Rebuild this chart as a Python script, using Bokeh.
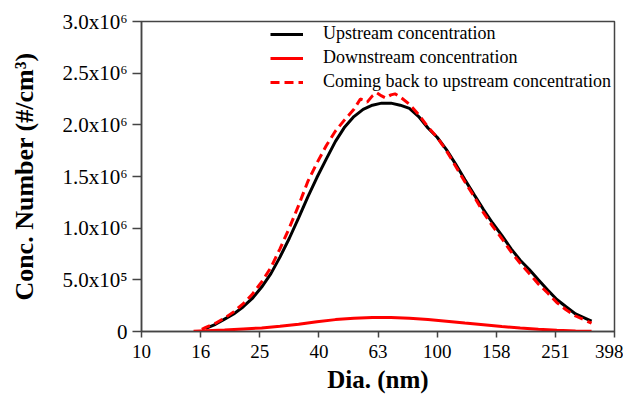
from bokeh.plotting import figure
from bokeh.models import Range1d, FixedTicker, CustomJSTickFormatter, Legend, LegendItem
from bokeh.embed import file_html
from bokeh.resources import INLINE

# ---- data ----
up_d = [16.5, 17.8, 19.1, 20.5, 22.1, 23.7, 25.5, 27.4, 29.4, 31.6, 34.0, 36.5, 39.2, 42.2,
        45.3, 48.7, 52.3, 56.2, 60.4, 64.9, 69.8, 75.0, 80.6, 86.6, 93.1, 100.0, 107.5,
        115.5, 124.1, 133.7, 143.5, 154.0, 165.5, 178.0, 191.0, 205.0, 220.0, 237.0, 254.0,
        273.0, 294.0, 316.0, 333.0]
up_v = [0.03, 0.07, 0.12, 0.17, 0.24, 0.32, 0.43, 0.56, 0.72, 0.90, 1.10, 1.30, 1.49, 1.67,
        1.84, 1.98, 2.08, 2.15, 2.19, 2.21, 2.21, 2.19, 2.16, 2.08, 1.97, 1.88, 1.76,
        1.62, 1.47, 1.32, 1.18, 1.05, 0.93, 0.80, 0.69, 0.60, 0.50, 0.40, 0.31,
        0.24, 0.17, 0.13, 0.10]

down_d = [15.0, 16.5, 19.1, 22.1, 25.5, 29.4, 34.0, 39.2, 45.3, 52.3, 60.4, 69.8, 80.6,
          93.1, 107.5, 124.1, 143.5, 165.5, 191.0, 220.0, 254.0, 294.0, 333.0]
down_v = [0.003, 0.008, 0.015, 0.025, 0.035, 0.05, 0.07, 0.095, 0.115, 0.128, 0.135, 0.135,
          0.128, 0.115, 0.10, 0.082, 0.065, 0.048, 0.034, 0.022, 0.012, 0.006, 0.003]

back_d = [16.0, 16.5, 17.8, 19.1, 20.5, 22.1, 23.7, 25.5, 27.4, 29.4, 31.6, 34.0, 36.5, 39.2,
          42.2, 45.3, 48.7, 52.3, 55.0, 56.2, 58.0, 60.4, 62.5, 64.9, 67.0, 69.8, 72.0, 75.0,
          80.6, 86.6, 93.1, 100.0, 107.5, 115.5, 124.1, 133.7, 143.5, 154.0, 165.5, 178.0,
          191.0, 205.0, 220.0, 237.0, 254.0, 273.0, 294.0, 316.0, 333.0]
back_v = [0.02, 0.04, 0.08, 0.13, 0.19, 0.27, 0.36, 0.48, 0.62, 0.80, 1.00, 1.22, 1.45, 1.63,
          1.80, 1.94, 2.05, 2.15, 2.25, 2.24, 2.22, 2.28, 2.31, 2.28, 2.26, 2.29, 2.30, 2.27,
          2.20, 2.10, 1.98, 1.88, 1.75, 1.60, 1.45, 1.30, 1.15, 1.02, 0.90, 0.77,
          0.66, 0.56, 0.46, 0.37, 0.28, 0.21, 0.15, 0.11, 0.08]

scale = 1e6  # values above are in units of 10^6 #/cm3

x_tick_labels = ["10", "16", "25", "40", "63", "100", "158", "251", "398"]
y_tick_values = [0, 500000, 1000000, 1500000, 2000000, 2500000, 3000000]
y_tick_labels = ["0", "5.0x10\u2075", "1.0x10\u2076", "1.5x10\u2076", "2.0x10\u2076",
                 "2.5x10\u2076", "3.0x10\u2076"]

series_names = ["Upstream concentration", "Downstream concentration",
                "Coming back to upstream concentration"]

FONT = "Liberation Serif"

p = figure(width=623, height=400, x_axis_type="log", output_backend="svg",
           toolbar_location=None, x_range=Range1d(10, 10 ** 2.6), y_range=Range1d(0, 3e6),
           min_border_left=141, min_border_right=9, min_border_top=21, min_border_bottom=69)

p.xgrid.visible = False
p.ygrid.visible = False
p.outline_line_color = "#444444"
p.outline_line_width = 1.5
p.background_fill_color = "white"
p.border_fill_color = "white"

r_up = p.line(up_d, [v * scale for v in up_v], line_color="black", line_width=3)
r_down = p.line(down_d, [v * scale for v in down_v], line_color="#ff0000", line_width=3)
r_back = p.line(back_d, [v * scale for v in back_v], line_color="#ff0000", line_width=3,
                line_dash="9 5")

# axes
x_ticks = [10 ** (1 + 0.2 * k) for k in range(len(x_tick_labels))]
p.xaxis.ticker = FixedTicker(ticks=x_ticks, minor_ticks=[])
p.xaxis.formatter = CustomJSTickFormatter(args=dict(labels=x_tick_labels), code="""
    const i = Math.round((Math.log10(tick) - 1) / 0.2);
    return labels[i];
""")
p.yaxis.ticker = FixedTicker(ticks=y_tick_values, minor_ticks=[])
p.yaxis.formatter = CustomJSTickFormatter(args=dict(vals=y_tick_values, labels=y_tick_labels), code="""
    let best = 0, bd = Infinity;
    for (let i = 0; i < vals.length; i++) { const d = Math.abs(vals[i] - tick); if (d < bd) { bd = d; best = i; } }
    return labels[best];
""")

for ax in (p.xaxis[0], p.yaxis[0]):
    ax.axis_line_color = "#444444"
    ax.axis_line_width = 1.5
    ax.major_tick_line_color = "#444444"
    ax.major_tick_line_width = 1.5
    ax.minor_tick_line_color = None
    ax.major_label_text_font = FONT
    ax.major_label_text_color = "black"
    ax.axis_label_text_font = FONT
    ax.axis_label_text_font_style = "bold"
    ax.axis_label_text_color = "black"

p.xaxis.axis_label_text_font_size = "25px"
p.xaxis.major_label_text_font_size = "19px"
p.yaxis.axis_label_text_font_size = "26px"
p.yaxis.major_label_text_font_size = "21px"
p.xaxis.axis_label = "Dia. (nm)"
p.yaxis.axis_label = "Conc. Number (#/cm\u00b3)"
p.xaxis.major_tick_out = 6
p.xaxis.major_tick_in = 0
p.yaxis.major_tick_out = 9
p.yaxis.major_tick_in = 0
p.xaxis.major_label_standoff = 7
p.yaxis.major_label_standoff = 5
p.xaxis.axis_label_standoff = 5
p.yaxis.axis_label_standoff = 20

legend = Legend(items=[LegendItem(label=series_names[0], renderers=[r_up]),
                       LegendItem(label=series_names[1], renderers=[r_down]),
                       LegendItem(label=series_names[2], renderers=[r_back])],
                location=(129, 238.7))
legend.border_line_color = None
legend.background_fill_alpha = 0
legend.padding = 0
legend.margin = 0
legend.spacing = 3
legend.glyph_width = 33
legend.glyph_height = 20
legend.label_height = 20
legend.label_standoff = 20
legend.label_text_font = FONT
legend.label_text_font_size = "18px"
legend.label_text_color = "black"
p.add_layout(legend)

open("out.html", "w").write(file_html(p, INLINE))
